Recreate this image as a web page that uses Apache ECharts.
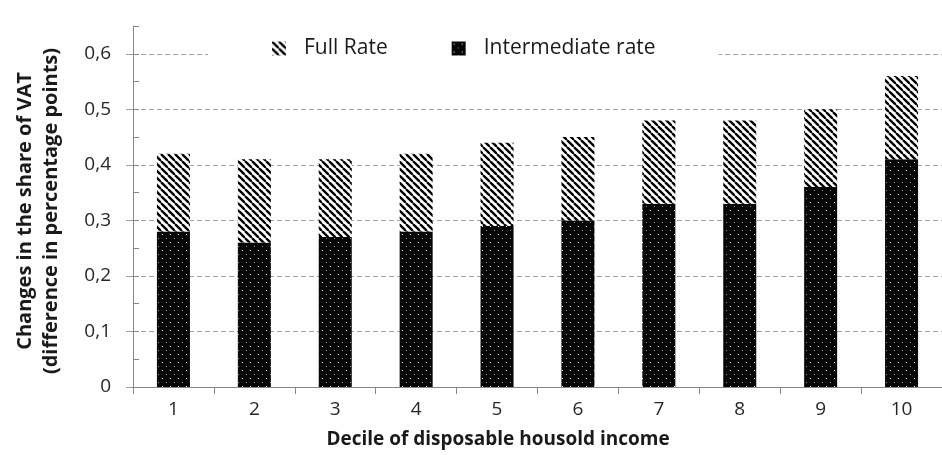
<!DOCTYPE html>
<html>
<head>
<meta charset="utf-8">
<script src="https://cdn.jsdelivr.net/npm/echarts@6/dist/echarts.min.js"></script>
<style>
html,body{margin:0;padding:0;background:#fff;}
#chart{width:942px;height:455px;}
</style>
</head>
<body>
<div id="chart"></div>
<script>
// ---- data ----
var categories = ['1','2','3','4','5','6','7','8','9','10'];
var intermediateRate = [0.28,0.26,0.27,0.28,0.29,0.30,0.33,0.33,0.36,0.41];
var fullRate = [0.14,0.15,0.14,0.14,0.15,0.15,0.15,0.15,0.14,0.15];
var seriesNames = ['Full Rate','Intermediate rate'];
var xTitle = 'Decile of disposable housold income';
var yTitle = 'Changes in the share of VAT\n(difference in percentage points)';
var yMaxLabelled = 0.6;
var yAxisTop = 0.65;

// ---- patterns ----
function hatchPattern(){
  var c = document.createElement('canvas');
  c.width = 7; c.height = 7;
  var g = c.getContext('2d');
  g.fillStyle = '#fff'; g.fillRect(0,0,7,7);
  g.strokeStyle = '#000'; g.lineWidth = 2.3;
  [-7,0,7].forEach(function(x0){
    g.beginPath(); g.moveTo(x0,0); g.lineTo(x0+7,7); g.stroke();
  });
  return c;
}
function dotPattern(){
  var c = document.createElement('canvas');
  c.width = 8; c.height = 8;
  var g = c.getContext('2d');
  g.fillStyle = '#050505'; g.fillRect(0,0,8,8);
  g.fillStyle = '#ffffff'; g.fillRect(2,2,1,1);
  g.fillStyle = '#9a9a9a'; g.fillRect(6,6,1,1);
  return c;
}
var hatch = {image: hatchPattern(), repeat: 'repeat'};
var dots = {image: dotPattern(), repeat: 'repeat'};

var FONT = 'Open Sans';
var chart = echarts.init(document.getElementById('chart'), null, {renderer:'canvas'});
var fmt = function(v){ return String(+v.toFixed(2)).replace('.', ','); };

// layout: full axis 0..0.65 spans y 26..387
var gTop = 26, gH = 361, gLeft = 133, gW = 813;
var pxPerUnit = gH / yAxisTop;
var top0 = gTop + (yAxisTop - yMaxLabelled) * pxPerUnit;
var h0 = yMaxLabelled * pxPerUnit;

chart.setOption({
  animation: false,
  backgroundColor: '#fff',
  grid: [
    {left: gLeft, top: top0, width: gW, height: h0, containLabel: false},
    {left: gLeft, top: gTop, width: gW, height: gH, containLabel: false}
  ],
  legend: {
    data: seriesNames,
    left: 208, top: 28,
    padding: [10, 63, 10, 64],
    backgroundColor: '#fff',
    itemWidth: 14, itemHeight: 14, itemGap: 64,
    textStyle: {fontFamily: FONT, fontSize: 21, color: '#1a1a1a', padding: [0,0,0,13]},
    icon: 'rect'
  },
  xAxis: [{
    type: 'category',
    gridIndex: 0,
    data: categories,
    axisLine: {lineStyle: {color: '#868686', width: 1}},
    axisTick: {show: true, length: 7, lineStyle: {color: '#868686'}},
    axisLabel: {fontFamily: FONT, fontSize: 19, color: '#262626', margin: 13},
    splitLine: {show: false},
    z: 3
  },{
    type: 'category',
    gridIndex: 1,
    data: categories,
    show: false
  }],
  yAxis: [{
    type: 'value',
    gridIndex: 0,
    min: 0, max: yMaxLabelled, interval: 0.1,
    axisLine: {show: false},
    axisTick: {show: true, length: 7, lineStyle: {color: '#a0a0a0'}},
    axisLabel: {fontFamily: FONT, fontSize: 19, color: '#262626', margin: 22, formatter: fmt},
    splitLine: {show: true, showMinLine: false,
      lineStyle: {color: '#a0a0a0', type: [5,3], width: 1}}
  },{
    type: 'value',
    gridIndex: 1,
    min: 0, max: yAxisTop, interval: 0.05,
    axisLine: {show: true, lineStyle: {color: '#868686'}},
    axisTick: {show: true, inside: true, length: 6, lineStyle: {color: '#868686'}},
    axisLabel: {show: false},
    splitLine: {show: false}
  }],
  series: [{
    name: seriesNames[1],
    type: 'bar',
    stack: 'vat',
    xAxisIndex: 0, yAxisIndex: 0,
    barWidth: 33,
    data: intermediateRate,
    itemStyle: {color: dots}
  },{
    name: seriesNames[0],
    type: 'bar',
    stack: 'vat',
    xAxisIndex: 0, yAxisIndex: 0,
    barWidth: 33,
    data: fullRate,
    itemStyle: {color: hatch}
  }],
  graphic: [{
    type: 'text',
    x: 38, y: 211,
    rotation: Math.PI/2,
    style: {text: yTitle, fontFamily: FONT, fontWeight: 'bold', fontSize: 20,
      lineHeight: 26, fill: '#1a1a1a', align: 'center', verticalAlign: 'middle'}
  },{
    type: 'text',
    x: 498, y: 440,
    style: {text: xTitle, fontFamily: FONT, fontWeight: 'bold', fontSize: 19,
      fill: '#1a1a1a', align: 'center', verticalAlign: 'middle'}
  }]
});
</script>
</body>
</html>
